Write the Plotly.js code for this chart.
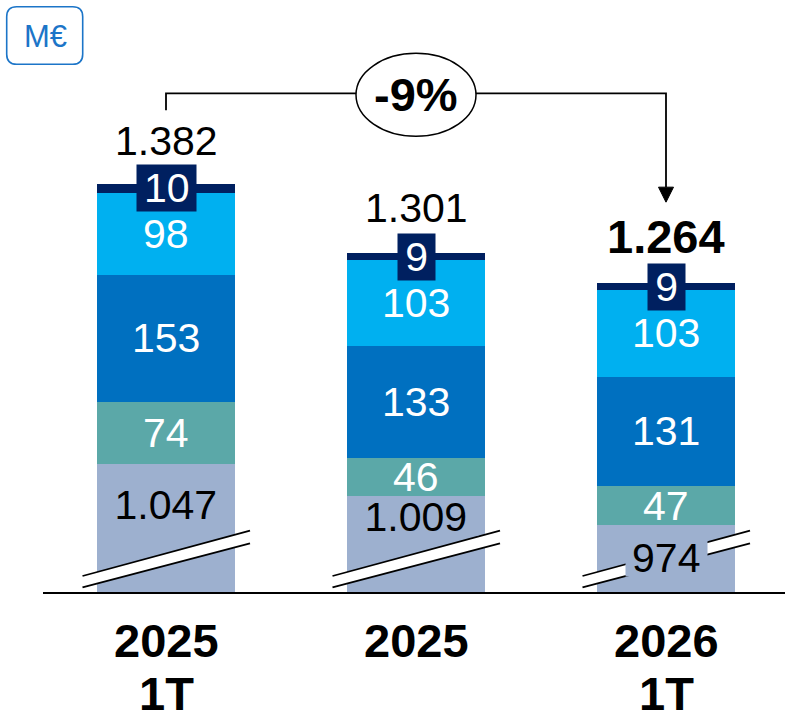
<!DOCTYPE html>
<html>
<head>
<meta charset="utf-8">
<script src="https://cdn.plot.ly/plotly-3.0.1.min.js"></script>
<style>html,body{margin:0;padding:0;background:#fff;}#chart{width:785px;height:715px;}</style>
</head>
<body>
<div id="chart"></div>
<script>
// ---- data ----
const yearLabels   = ['2025', '2025', '2026'];
const periodLabels = ['1T', '', '1T'];
const baseValues   = [1047, 1009, 974];
const tealValues   = [74, 46, 47];
const blueValues   = [153, 133, 131];
const lightValues  = [98, 103, 103];
const navyValues   = [10, 9, 9];
const totals       = [1382, 1301, 1264];
const unitLabel    = 'M€';

// ---- layout constants ----
const W = 785, H = 715;
const ML = 43, MB = 122;
const plotH = H - MB;                // 593
const pxPerUnit = 0.8364;
const yMin = 893.2;                  // broken axis start
const u = px => px / pxPerUnit;      // pixels -> value units
const xPx = 250;                     // pixels per category
const baseLabelDrop = [41, 21, 33];  // px below the top of the base segment

const colors = {
  base: '#9DB0CF', teal: '#5BA8A8', blue: '#0070C0', light: '#00B0F0', navy: '#002060', unit: '#1C75C8'
};
const FONT = '"Liberation Sans", Arial, sans-serif';
const LBL = 41;

function fmt(n) {
  n = Math.round(n);
  if (n >= 1000) {
    const t = Math.floor(n / 1000), r = n % 1000;
    return t + '.' + String(r).padStart(3, '0');
  }
  return String(n);
}

const xs = yearLabels.map((_, i) => i);
const barW = 138.5 / xPx;

const series = [
  {vals: baseValues, color: colors.base},
  {vals: tealValues, color: colors.teal},
  {vals: blueValues, color: colors.blue},
  {vals: lightValues, color: colors.light},
  {vals: navyValues, color: colors.navy}
];

const traces = series.map(s => ({
  type: 'bar', x: xs, y: s.vals, width: barW,
  marker: {color: s.color, line: {width: 0}},
  hoverinfo: 'skip', showlegend: false
}));

const annotations = [];
const shapes = [];

xs.forEach(i => {
  let cum = 0;
  series.forEach((s, k) => {
    const v = s.vals[i];
    const mid = cum + v / 2;
    if (k === 0) {
      const txt = fmt(v);
      annotations.push({
        x: i, y: v - u(baseLabelDrop[i]), xref: 'x', yref: 'y', text: txt, showarrow: false,
        font: {family: FONT, size: LBL, color: '#000'},
        bgcolor: colors.base, borderpad: 0, width: txt.length * 21.5 + 16, height: 36,
        xanchor: 'center', yanchor: 'middle'
      });
    } else if (k === 4) {
      const txt = fmt(v);
      annotations.push({
        x: i, y: mid, xref: 'x', yref: 'y', text: txt, showarrow: false,
        font: {family: FONT, size: LBL, color: '#fff'},
        bgcolor: colors.navy, borderpad: 0, width: txt.length * 22.2 + 15, height: 46,
        xanchor: 'center', yanchor: 'middle'
      });
    } else {
      annotations.push({
        x: i, y: mid, xref: 'x', yref: 'y', text: fmt(v), showarrow: false,
        font: {family: FONT, size: LBL, color: '#fff'},
        height: 36, borderpad: 0,
        xanchor: 'center', yanchor: 'middle'
      });
    }
    cum += v;
  });
  const last = i === xs.length - 1;
  annotations.push({
    x: i, y: totals[i], xref: 'x', yref: 'y',
    text: last ? '<b>' + fmt(totals[i]) + '</b>' : fmt(totals[i]),
    showarrow: false, yanchor: 'middle', xanchor: 'center',
    yshift: last ? 46.5 : 43.5,
    font: {family: FONT, size: last ? 47 : LBL, color: '#000'}
  });
  annotations.push({
    x: i, xref: 'x', y: (plotH - 640) / plotH, yref: 'paper',
    text: '<b>' + yearLabels[i] + '</b>', showarrow: false,
    xanchor: 'center', yanchor: 'middle',
    font: {family: FONT, size: 47, color: '#000'}
  });
  if (periodLabels[i]) {
    annotations.push({
      x: i, xref: 'x', y: (plotH - 694) / plotH, yref: 'paper',
      text: '<b>' + periodLabels[i] + '</b>', showarrow: false,
      xanchor: 'center', yanchor: 'middle',
      font: {family: FONT, size: 47, color: '#000'}
    });
  }
  // break marks
  const top = yMin + u(plotH - 576), topR = yMin + u(plotH - 530.7);
  const bot = yMin + u(plotH - 587.3), botR = yMin + u(plotH - 543.3);
  const xl = i - 83.5 / xPx, xr = i + 84 / xPx;
  shapes.push({type: 'path', xref: 'x', yref: 'y', layer: 'above',
    path: `M ${xl} ${top} L ${xr} ${topR} L ${xr} ${botR} L ${xl} ${bot} Z`,
    fillcolor: '#fff', line: {width: 0}});
  shapes.push({type: 'line', xref: 'x', yref: 'y', layer: 'above', x0: xl, y0: top, x1: xr, y1: topR, line: {color: '#000', width: 1.8}});
  shapes.push({type: 'line', xref: 'x', yref: 'y', layer: 'above', x0: xl, y0: bot, x1: xr, y1: botR, line: {color: '#000', width: 1.8}});
});

// baseline
shapes.push({type: 'line', xref: 'paper', yref: 'paper', x0: 0, x1: 1, y0: 0, y1: 0, line: {color: '#000', width: 2}});

// change bracket
const first = 0, lastI = xs.length - 1;
const bracketY = totals[first] + u(184 - 93.3);
const leftStart = totals[first] + u(184 - 110);
const tipY = totals[lastI] + u(282.7 - 202);
const headLen = u(15);
shapes.push({type: 'path', xref: 'x', yref: 'y', layer: 'above',
  path: `M ${first} ${leftStart} L ${first} ${bracketY} L ${lastI} ${bracketY} L ${lastI} ${tipY + headLen}`,
  line: {color: '#000', width: 1.8}});
shapes.push({type: 'path', xref: 'x', yref: 'y', layer: 'above',
  path: `M ${lastI - 7.5 / xPx} ${tipY + headLen} L ${lastI + 7.5 / xPx} ${tipY + headLen} L ${lastI} ${tipY} Z`,
  fillcolor: '#000', line: {color: '#000', width: 1}});
shapes.push({type: 'circle', xref: 'x', yref: 'y', layer: 'above',
  xsizemode: 'pixel', xanchor: 1, x0: -60, x1: 60,
  ysizemode: 'pixel', yanchor: bracketY - u(1.4), y0: -41.5, y1: 41.5,
  fillcolor: '#fff', line: {color: '#000', width: 1.5}});
const pct = Math.round((totals[lastI] / totals[first] - 1) * 100);
annotations.push({
  x: 1, y: bracketY - u(1.4), xref: 'x', yref: 'y', text: '<b>' + pct + '%</b>',
  showarrow: false, xanchor: 'center', yanchor: 'middle',
  font: {family: FONT, size: 47, color: '#000'}
});

// unit box (rounded rectangle)
const px2x = px => (px - ML) / (W - ML);
const px2y = py => (plotH - py) / plotH;
const bx0 = 6.7, bx1 = 82.7, by0 = 6.7, by1 = 64.3, r = 10;
const P = (x, y) => `${px2x(x)} ${px2y(y)}`;
shapes.push({type: 'path', xref: 'paper', yref: 'paper', layer: 'above',
  path: `M ${P(bx0 + r, by0)} L ${P(bx1 - r, by0)} Q ${P(bx1, by0)} ${P(bx1, by0 + r)} L ${P(bx1, by1 - r)} Q ${P(bx1, by1)} ${P(bx1 - r, by1)} L ${P(bx0 + r, by1)} Q ${P(bx0, by1)} ${P(bx0, by1 - r)} L ${P(bx0, by0 + r)} Q ${P(bx0, by0)} ${P(bx0 + r, by0)} Z`,
  fillcolor: 'rgba(0,0,0,0)', line: {color: colors.unit, width: 1.6}});
annotations.push({
  x: px2x(45), y: px2y(36), xref: 'paper', yref: 'paper', text: unitLabel,
  showarrow: false, xanchor: 'center', yanchor: 'middle',
  font: {family: FONT, size: 31, color: colors.unit}
});

const layout = {
  width: W, height: H,
  margin: {l: ML, r: 0, t: 0, b: MB, pad: 0},
  barmode: 'stack',
  paper_bgcolor: '#fff', plot_bgcolor: '#fff',
  showlegend: false,
  xaxis: {range: [-(166 - ML) / xPx, (W - 166) / xPx], visible: false, fixedrange: true},
  yaxis: {range: [yMin, yMin + u(plotH)], visible: false, fixedrange: true},
  shapes: shapes,
  annotations: annotations,
  font: {family: FONT}
};

Plotly.newPlot('chart', traces, layout, {displayModeBar: false, staticPlot: true});
</script>
</body>
</html>
